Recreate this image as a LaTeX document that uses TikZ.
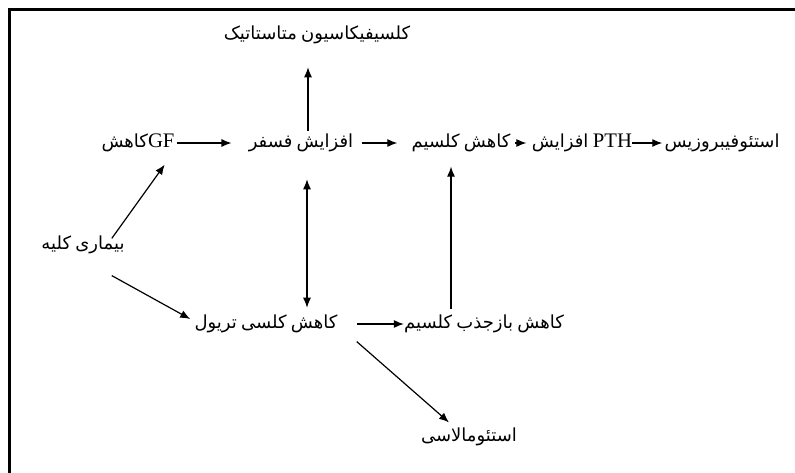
\documentclass[tikz,border=0pt]{standalone}
\usepackage{fontspec}
\setmainfont{Liberation Serif}
\newfontfamily\arabicfont[Script=Arabic,WordSpace=0.75]{DejaVu Sans}
\TeXXeTstate=1
\usetikzlibrary{arrows.meta}
\newcommand{\latinbig}[1]{{\fontsize{15.5}{16}\selectfont #1}}

\begin{document}
\begin{tikzpicture}[x=0.75pt,y=-0.75pt]

\tikzset{box/.style = {inner sep=0pt, text height=10pt, text depth=4pt, font=\fontsize{13.5}{16}\selectfont}}
\tikzset{edge/.style = {->,> = {Latex[length=7.5pt,width=6pt]}, line width=0.9pt}}
\useasboundingbox (0,0) rectangle (795,472);
%frame
\draw[line width=1.6pt] (9.5,480) |- (800,9.5);
%nodes
\node[box] (meta) at (317,35) {\arabicfont\beginR کلسیفیکاسیون متاستاتیک\endR};
\node[box] (gf) at (138,143) {{\arabicfont\beginR کاهش\endR}\latinbig{GF}};
\node[box] (phos) at (301,143) {\arabicfont\beginR افزایش فسفر\endR};
\node[box] (ca) at (461,143) {\arabicfont\beginR کاهش کلسیم\endR};
\node[box] (pth) at (582,143) {{\arabicfont\beginR افزایش\endR} \latinbig{PTH}};
\node[box] (fib) at (722,143) {\arabicfont\beginR استئوفیبروزیس\endR};
\node[box] (kid) at (83,245) {\arabicfont\beginR بیماری کلیه\endR};
\node[box] (calc) at (266,324) {\arabicfont\beginR کاهش کلسی تریول\endR};
\node[box] (reab) at (484,324) {\arabicfont\beginR کاهش بازجذب کلسیم\endR};
\node[box] (osteo) at (469,437) {\arabicfont\beginR استئومالاسی\endR};
%edges
\draw[edge, shorten <=1.5pt, shorten >=12.75pt] (gf.east) -- (phos.west);
\draw[edge, shorten <=6pt, shorten >=10.5pt] (phos.east) -- (ca.west);
\draw[edge, shorten <=3.5pt, shorten >=4pt] (ca.east) -- (pth.west);
\draw[edge, shorten >=1.5pt] (pth.east) -- (fib.west);
\draw[edge, shorten <=2pt, shorten >=17pt] ([xshift=5.25pt]phos.north) -- ([xshift=-6.75pt]meta.south);
\draw[edge, <->, shorten <=20pt, shorten >=5pt] ([xshift=4.5pt]phos.south) -- ([xshift=30.75pt]calc.north);
\draw[edge] ([xshift=-9.75pt,yshift=-2.25pt]kid.north east) -- ([xshift=-7.5pt,yshift=-9pt]gf.south east);
\draw[edge] ([xshift=-9.75pt,yshift=-15.75pt]kid.south east) -- ([xshift=-3pt,yshift=3.75pt]calc.west);
\draw[edge, shorten <=14.25pt] (calc.east) -- (reab.west);
\draw[edge, shorten <=4pt, shorten >=10.5pt] ([xshift=-24.75pt]reab.north) -- ([xshift=-7.5pt]ca.south);
\draw[edge] ([xshift=14.25pt,yshift=-6pt]calc.south east) -- ([xshift=-15pt,yshift=3.75pt]osteo.north);

\end{tikzpicture}
\end{document}
